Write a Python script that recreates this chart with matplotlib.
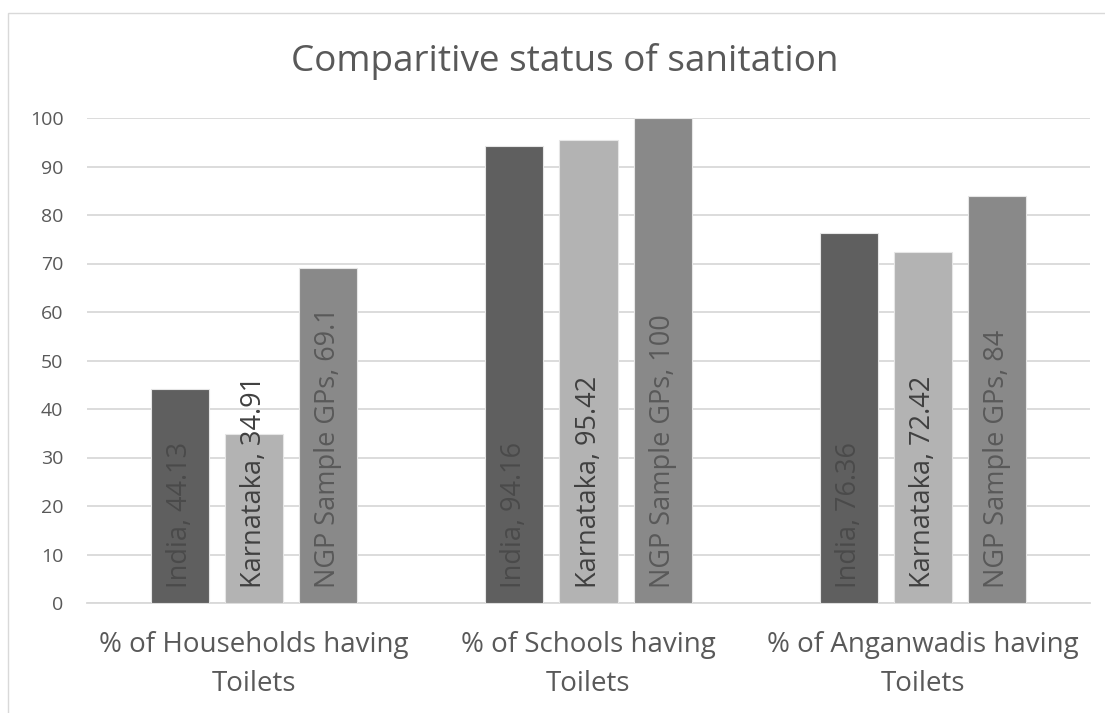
import matplotlib
matplotlib.use("Agg")
import matplotlib.pyplot as plt
from matplotlib.patches import Rectangle
import numpy as np

categories = ["% of Households having\nToilets", "% of Schools having\nToilets", "% of Anganwadis having\nToilets"]
series_names = ["India", "Karnataka", "NGP Sample GPs"]
india = [44.13, 94.16, 76.36]
karnataka = [34.91, 95.42, 72.42]
ngp = [69.1, 100, 84]
label_texts = {
    "India": ["44.13", "94.16", "76.36"],
    "Karnataka": ["34.91", "95.42", "72.42"],
    "NGP Sample GPs": ["69.1", "100", "84"],
}
yticks = [0, 10, 20, 30, 40, 50, 60, 70, 80, 90, 100]

colors = ["#5f5f5f", "#b3b3b3", "#898989"]
label_colors = ["#4a4a4a", "#404040", "#595959"]

plt.rcParams['font.family'] = ['Open Sans', 'DejaVu Sans']

fig = plt.figure(figsize=(11.05, 7.13), dpi=100)
fig.patches.append(Rectangle((8/1105, -0.1), 1.2, 1 - 13/713 + 0.1, transform=fig.transFigure,
                             fill=False, edgecolor="#d9d9d9", linewidth=1.0))
ax = fig.add_axes([87/1105, 1 - 603/713, (1090 - 87)/1105, (603 - 118)/713])

x = np.arange(len(categories))
w = 58/334
step = 74/334
data = [india, karnataka, ngp]
for i, (name, vals) in enumerate(zip(series_names, data)):
    pos = x + (i - 1) * step
    ax.bar(pos, vals, width=w, color=colors[i], edgecolor="#e6e6e6", linewidth=0.8, zorder=3)
    for p, t in zip(pos, label_texts[name]):
        ax.annotate(f"{name}, {t}", xy=(p, 0), xytext=(0, 11), textcoords="offset points",
                    rotation=90, ha="center", va="bottom", fontsize=19.5,
                    color=label_colors[i], zorder=4)

ax.set_xlim(-0.5, 2.5)
ax.set_ylim(0, 100)
ax.set_yticks(yticks)
ax.set_xticks(x)
ax.set_xticklabels(categories, fontsize=20, color="#595959", linespacing=1.55)
ax.tick_params(axis="y", labelsize=14, colors="#595959", length=0, pad=17)
ax.tick_params(axis="x", length=0, pad=20)
ax.yaxis.grid(True, color="#d9d9d9", linewidth=1.3, zorder=0)
for s in ["top", "right", "left"]:
    ax.spines[s].set_visible(False)
ax.spines["bottom"].set_color("#d9d9d9")
ax.spines["bottom"].set_linewidth(1.3)
ax.set_axisbelow(True)

fig.text(565/1105, 1 - 62/713, "Comparitive status of sanitation", ha="center", va="center",
         fontsize=26.6, color="#595959")

fig.savefig("out.png", dpi=100)
